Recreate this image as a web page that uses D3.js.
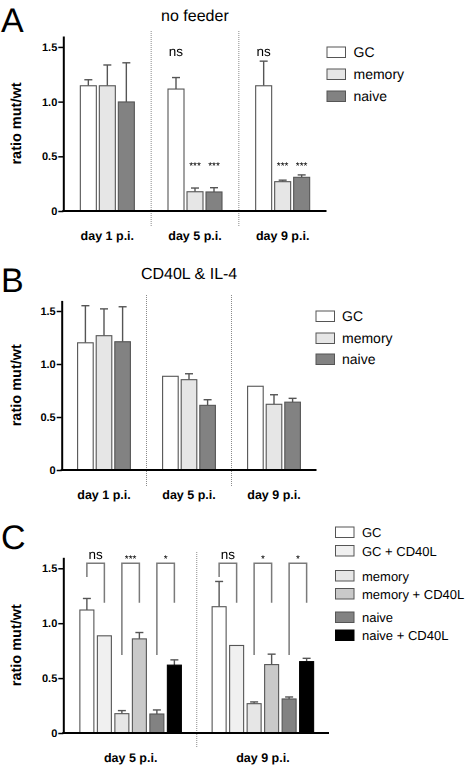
<!DOCTYPE html>
<html><head><meta charset="utf-8">
<script src="https://cdn.jsdelivr.net/npm/d3@7"></script>
<style>
body{margin:0;background:#fff;}
svg{display:block;font-family:"Liberation Sans",Arial,Helvetica,sans-serif;text-rendering:geometricPrecision;}
.sig{will-change:transform;opacity:0.999;}
</style></head>
<body>
<svg id="chart" width="465" height="765"></svg>
<script>
// ---------- data ----------
const catsAB = ["day 1 p.i.", "day 5 p.i.", "day 9 p.i."];
const seriesAB = ["GC", "memory", "naive"];
const catsC = ["day 5 p.i.", "day 9 p.i."];
const seriesC = ["GC", "GC + CD40L", "memory", "memory + CD40L", "naive", "naive + CD40L"];
const tickVals = [0, 0.5, 1.0, 1.5];
const tickLabels = ["0", "0.5", "1.0", "1.5"];

// Panel A: no feeder (mean, SEM)
const aGC = [1.145, 1.115, 1.145],      aGCErr = [0.055, 0.105, 0.225];
const aMem = [1.145, 0.176, 0.268],     aMemErr = [0.19, 0.034, 0.014];
const aNaive = [0.997, 0.174, 0.308],   aNaiveErr = [0.358, 0.039, 0.022];
const aSig = [["day 5 p.i.", "GC", "ns"], ["day 5 p.i.", "memory", "***"], ["day 5 p.i.", "naive", "***"],
              ["day 9 p.i.", "GC", "ns"], ["day 9 p.i.", "memory", "***"], ["day 9 p.i.", "naive", "***"]];

// Panel B: CD40L & IL-4
const bGC = [1.20, 0.884, 0.79],        bGCErr = [0.35, 0, 0];
const bMem = [1.267, 0.852, 0.62],      bMemErr = [0.253, 0.056, 0.09];
const bNaive = [1.21, 0.61, 0.64],      bNaiveErr = [0.33, 0.053, 0.036];

// Panel C
const cGC = [1.12, 1.15],               cGCErr = [0.105, 0.23];
const cGCcd = [0.885, 0.797],           cGCcdErr = [0, 0];
const cMem = [0.176, 0.267],            cMemErr = [0.028, 0.016];
const cMemcd = [0.857, 0.623],          cMemcdErr = [0.058, 0.095];
const cNaive = [0.173, 0.31],           cNaiveErr = [0.037, 0.018];
const cNaivecd = [0.618, 0.65],         cNaivecdErr = [0.048, 0.03];
const cSig = [["GC", "GC + CD40L", "ns", "ns"], ["memory", "memory + CD40L", "***", "*"], ["naive", "naive + CD40L", "*", "*"]];

const colors = {"GC": "#ffffff", "GC + CD40L": "#f0f0f0", "memory": "#e6e6e6",
  "memory + CD40L": "#c9c9c9", "naive": "#828282", "naive + CD40L": "#000000"};

function build(cats, series, means, errs) {
  const rows = [];
  cats.forEach((c, i) => series.forEach((s, j) => rows.push({cat: c, s, v: means[j][i], e: errs[j][i]})));
  return rows;
}

const svg = d3.select("#chart");
const FONT = '"Liberation Sans",Arial,Helvetica,sans-serif';

function panel(o) {
  const g = svg.append("g");
  const x = d3.scaleBand().domain(o.cats).range(o.xr);
  const n = o.series.length;
  const half = o.step * n / 2;
  const xi = d3.scaleBand().domain(o.series).range([-half, half])
      .paddingInner(o.pad).paddingOuter(o.pad / 2);
  const y = d3.scaleLinear().domain([0, 1.6]).range(o.yr);

  // dividers
  o.cats.slice(1).forEach(c => {
    g.append("line").attr("x1", x(c)).attr("x2", x(c)).attr("y1", o.divTop).attr("y2", o.divBot)
      .attr("stroke", "#8a8a8a").attr("stroke-width", 1).attr("stroke-dasharray", "1,1");
  });

  const rows = o.rows;
  const bx = d => x(d.cat) + x.bandwidth() / 2 + xi(d.s);
  // error bars
  const eb = g.selectAll(".eb").data(rows.filter(d => d.e > 0)).enter().append("g");
  eb.append("line").attr("x1", d => bx(d) + xi.bandwidth() / 2).attr("x2", d => bx(d) + xi.bandwidth() / 2)
    .attr("y1", d => y(d.v)).attr("y2", d => y(d.v + d.e)).attr("stroke", "#555").attr("stroke-width", 1.4);
  eb.append("line").attr("x1", d => bx(d) + xi.bandwidth() / 2 - 4).attr("x2", d => bx(d) + xi.bandwidth() / 2 + 4)
    .attr("y1", d => y(d.v + d.e)).attr("y2", d => y(d.v + d.e)).attr("stroke", "#555").attr("stroke-width", 1.4);
  // bars
  g.selectAll(".bar").data(rows).enter().append("rect")
    .attr("x", d => bx(d)).attr("width", xi.bandwidth())
    .attr("y", d => y(d.v)).attr("height", d => y(0) - y(d.v))
    .attr("fill", d => colors[d.s]).attr("stroke", d => d.s === "naive + CD40L" ? "#000" : "#555").attr("stroke-width", 1.1);

  // y axis
  const ax = g.append("g").attr("transform", `translate(${o.axisX},0)`)
    .call(d3.axisLeft(y).tickValues(tickVals).tickFormat((d, i) => tickLabels[i]).tickSize(5).tickSizeOuter(0).tickPadding(1));
  ax.select(".domain").attr("stroke", "#000").attr("stroke-width", 2);
  ax.selectAll(".tick line").attr("stroke", "#000").attr("stroke-width", 1.5);
  ax.selectAll(".tick text").attr("font-family", FONT).attr("font-size", 11).attr("font-weight", "bold").attr("fill", "#000");
  // baseline
  g.append("line").attr("x1", o.axisX - 1).attr("x2", o.xr[1]).attr("y1", y(0)).attr("y2", y(0))
    .attr("stroke", "#000").attr("stroke-width", 2);
  // x labels
  g.selectAll(".xl").data(o.cats).enter().append("text")
    .attr("x", d => x(d) + x.bandwidth() / 2).attr("y", y(0) + 28.5)
    .attr("text-anchor", "middle").attr("font-size", 12.5).attr("font-weight", "bold").text(d => d);
  // y label
  const ymid = (o.yr[0] + o.yr[1]) / 2;
  g.append("text").attr("transform", `translate(20.5,${ymid}) rotate(-90)`).attr("text-anchor", "middle")
    .attr("font-size", 14.5).attr("font-weight", "bold").text("ratio mut/wt");
  // panel letter
  g.append("text").attr("x", 1).attr("y", o.letterY).attr("font-size", 34).text(o.letter);
  // title
  if (o.title) g.append("text").attr("x", (o.axisX + o.xr[1]) / 2).attr("y", o.titleY)
    .attr("text-anchor", "middle").attr("font-size", 16).text(o.title);
  // legend
  g.selectAll(".lg").data(o.series).enter().append("g").each(function(s, i) {
    const gg = d3.select(this);
    const cy = o.legY[i];
    gg.append("rect").attr("x", o.legX).attr("y", cy - 5).attr("width", 18.5).attr("height", 10.5)
      .attr("fill", colors[s]).attr("stroke", s === "naive + CD40L" ? "#000" : "#555").attr("stroke-width", 1);
    gg.append("text").attr("x", o.legX + o.legGap).attr("y", cy + 5).attr("font-size", o.legFont).text(s);
  });
  return {g, x, xi, y};
}

function sigText(g, xPos, yPos, t) {
  const isNs = t === "ns";
  g.append("text").attr("class", "sig").attr("x", xPos).attr("y", yPos)
    .attr("text-anchor", "middle").attr("font-size", isNs ? 13.5 : 10).attr("fill", "#000").text(t);
}

// Panel A
const pA = panel({cats: catsAB, series: seriesAB,
  rows: build(catsAB, seriesAB, [aGC, aMem, aNaive], [aGCErr, aMemErr, aNaiveErr]),
  xr: [63.5, 326.5], step: 19, pad: 3 / 19, yr: [211, 36], axisX: 63.3,
  divTop: 31, divBot: 227, letter: "A", letterY: 32, title: "no feeder", titleY: 20.5,
  legX: 327, legY: [52, 74, 96], legGap: 26.5, legFont: 14});
aSig.forEach(([c, s, t]) => {
  const cx = pA.x(c) + pA.x.bandwidth() / 2 + pA.xi(s) + pA.xi.bandwidth() / 2;
  sigText(pA.g, cx, t === "ns" ? pA.y(1.415) : pA.y(0.385), t);
});

// Panel B
panel({cats: catsAB, series: seriesAB,
  rows: build(catsAB, seriesAB, [bGC, bMem, bNaive], [bGCErr, bMemErr, bNaiveErr]),
  xr: [61.5, 316.5], step: 18.6, pad: 3 / 18.6, yr: [470, 300.4], axisX: 61.7,
  divTop: 295, divBot: 487, letter: "B", letterY: 291.5, title: "CD40L & IL-4", titleY: 278.5,
  legX: 316, legY: [316, 338, 359], legGap: 26, legFont: 14});

// Panel C
const pC = panel({cats: catsC, series: seriesC,
  rows: build(catsC, seriesC, [cGC, cGCcd, cMem, cMemcd, cNaive, cNaivecd],
    [cGCErr, cGCcdErr, cMemErr, cMemcdErr, cNaiveErr, cNaivecdErr]),
  xr: [64.5, 329], step: 17.5, pad: 3.5 / 17.5, yr: [733, 557.3], axisX: 63.3,
  divTop: 552, divBot: 748, letter: "C", letterY: 549, title: null, titleY: 0,
  legX: 335.5, legY: [532, 550.5, 575.5, 593.5, 617, 635], legGap: 26.5, legFont: 13});
catsC.forEach((c, ci) => {
  cSig.forEach(([s1, s2, t5, t9], k) => {
    const t = ci === 0 ? t5 : t9;
    const cx1 = pC.x(c) + pC.x.bandwidth() / 2 + pC.xi(s1) + pC.xi.bandwidth() / 2;
    const cx2 = pC.x(c) + pC.x.bandwidth() / 2 + pC.xi(s2) + pC.xi.bandwidth() / 2;
    const top = pC.y(1.545), leftBot = pC.y(k === 0 ? 1.42 : 0.71), rightBot = pC.y(1.185);
    pC.g.append("path").attr("d", `M${cx1},${leftBot}V${top}H${cx2}V${rightBot}`)
      .attr("fill", "none").attr("stroke", "#7a7a7a").attr("stroke-width", 1.5);
    sigText(pC.g, (cx1 + cx2) / 2, t === "ns" ? 558.5 : 562, t);
  });
});
</script>
</body></html>
